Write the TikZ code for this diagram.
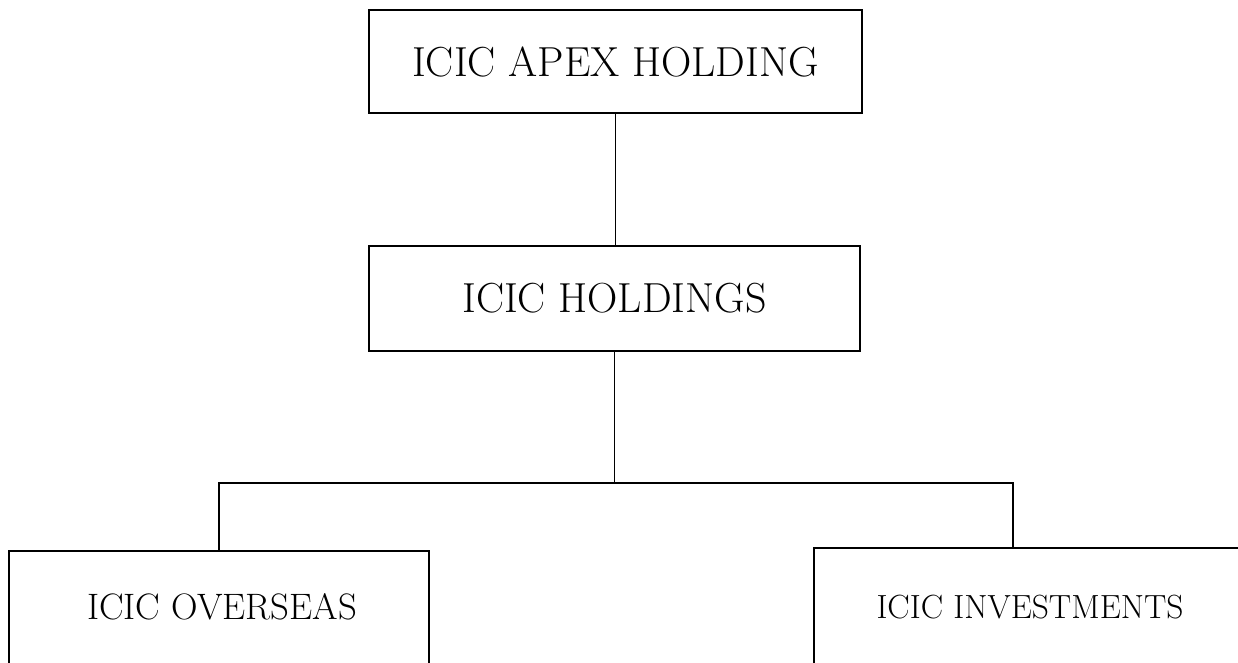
\documentclass[tikz,border=0pt]{standalone}
\usepackage{tikz}

\tikzset{
	orgbox/.style={draw, line width=1.6pt, inner sep=0pt},
	bigtext/.style={font=\fontsize{42}{48}\selectfont},
	smalltext/.style={font=\fontsize{#1}{40}\selectfont},
}

\begin{document}
\begin{tikzpicture}[x=1pt,y=-1pt,line width=1.6pt]
	\useasboundingbox (0,0) rectangle (1238,663);

	\node[orgbox, bigtext, minimum width=493pt, minimum height=103pt] (apex) at (615.5,61.5) {ICIC APEX HOLDING};
	\node[orgbox, bigtext, minimum width=491pt, minimum height=105pt] (holdings) at (614.5,298.5) {ICIC HOLDINGS};

	\node[orgbox, minimum width=420pt, minimum height=200pt] (overseas) at (219,651) {};
	\node[orgbox, minimum width=480pt, minimum height=200pt] (investments) at (1054,648) {};
	\node[smalltext=36.8] (overseas text) at (222,607) {ICIC OVERSEAS};
	\node[smalltext=33.5] (investments text) at (1030,607) {ICIC INVESTMENTS};

	\coordinate (leftdrop) at (219,483);
	\coordinate (rightdrop) at (1013,483);

	\draw (apex.south) -- (apex.south |- holdings.north);
	\draw (holdings.south) -- (holdings.south |- leftdrop);
	\draw (overseas.north) -- (leftdrop) -- (rightdrop) -- (rightdrop |- investments.north);
\end{tikzpicture}
\end{document}
